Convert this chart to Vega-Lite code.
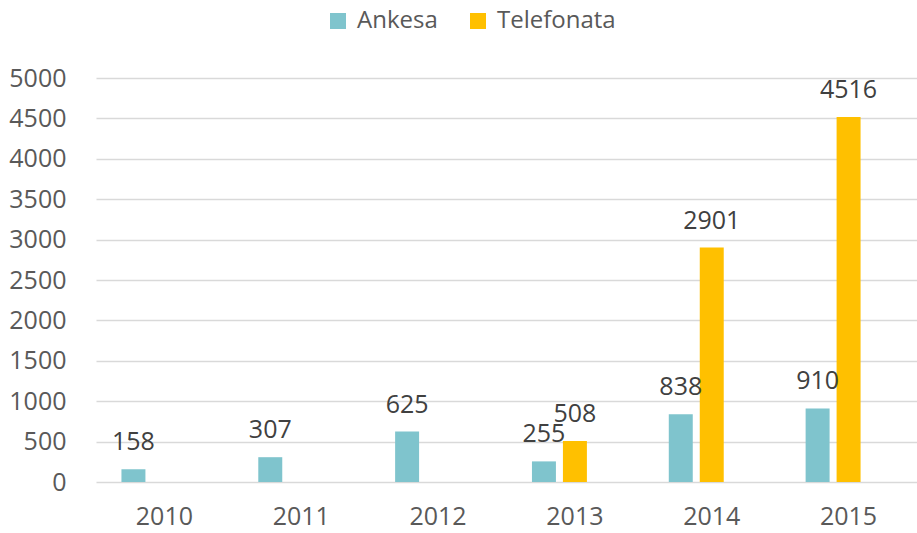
{
  "$schema": "https://vega.github.io/schema/vega-lite/v6.json",
  "autosize": "none",
  "width": 821,
  "height": 404,
  "padding": {"left": 96, "top": 78, "right": 0, "bottom": 51},
  "background": "white",
  "config": {
    "view": {"stroke": null},
    "font": "Open Sans"
  },
  "data": {
    "values": [
      {"year": "2010", "series": "Ankesa", "value": 158},
      {"year": "2011", "series": "Ankesa", "value": 307},
      {"year": "2012", "series": "Ankesa", "value": 625},
      {"year": "2013", "series": "Ankesa", "value": 255},
      {"year": "2013", "series": "Telefonata", "value": 508},
      {"year": "2014", "series": "Ankesa", "value": 838},
      {"year": "2014", "series": "Telefonata", "value": 2901},
      {"year": "2015", "series": "Ankesa", "value": 910},
      {"year": "2015", "series": "Telefonata", "value": 4516}
    ]
  },
  "encoding": {
    "x": {
      "field": "year", "type": "nominal",
      "scale": {"paddingInner": 0.372, "paddingOuter": 0.186},
      "axis": {"title": null, "labelAngle": 0, "labelFontSize": 25, "labelColor": "#595959", "labelPadding": 22, "ticks": false, "domain": false, "grid": false, "labelFont": "Open Sans"}
    },
    "xOffset": {
      "field": "series", "type": "nominal",
      "scale": {"domain": ["Ankesa", "Telefonata", "_"], "paddingInner": 0.226, "paddingOuter": 0}
    },
    "y": {
      "field": "value", "type": "quantitative",
      "scale": {"domain": [0, 5000], "nice": false},
      "axis": {"title": null, "format": "d", "values": [0, 500, 1000, 1500, 2000, 2500, 3000, 3500, 4000, 4500, 5000], "labelFontSize": 25, "labelColor": "#595959", "labelPadding": 30, "ticks": false, "domain": false, "gridColor": "#d9d9d9", "gridWidth": 1.5, "labelFont": "Open Sans"}
    }
  },
  "layer": [
    {
      "mark": {"type": "bar"},
      "encoding": {
        "color": {
          "field": "series", "type": "nominal",
          "scale": {"domain": ["Ankesa", "Telefonata"], "range": ["#7fc4cd", "#ffc000"]},
          "legend": {
            "title": null, "orient": "none", "legendX": 230, "legendY": -69,
            "direction": "horizontal", "symbolType": "square", "symbolSize": 256,
            "symbolStrokeWidth": 0, "labelFontSize": 24, "labelColor": "#595959",
            "labelOffset": 7, "columnPadding": 28, "padding": 0, "labelFont": "Open Sans"
          }
        }
      }
    },
    {
      "mark": {"type": "text", "baseline": "alphabetic", "dy": -19, "fontSize": 25, "color": "#404040", "font": "Open Sans"},
      "encoding": {
        "text": {"field": "value", "type": "quantitative", "format": "d"}
      }
    }
  ]
}
